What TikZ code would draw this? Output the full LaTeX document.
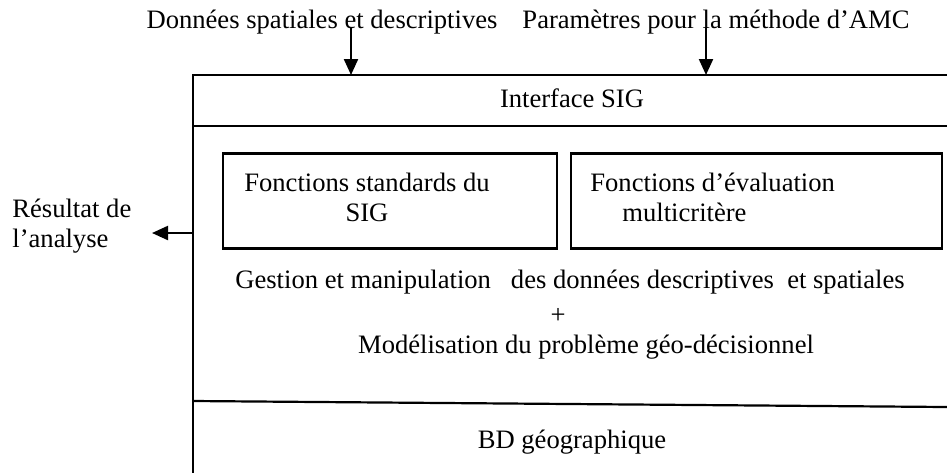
\documentclass[tikz,border=0pt]{standalone}
\usepackage{fontspec}
\setmainfont{Liberation Serif}
\usetikzlibrary{positioning,arrows.meta}

\begin{document}
\begin{tikzpicture}[x=0.5pt,y=-0.5pt,
    every node/.style={font=\fontsize{13.3}{15}\selectfont,inner sep=0pt},
    frame/.style={line width=1.1pt},
    fbox/.style={draw,line width=1.1pt,minimum width=167pt,minimum height=47.5pt},
    flow/.style={line width=1.1pt,-{Triangle[length=8pt,width=7pt]}},
  ]
  \useasboundingbox (0,0) rectangle (947,473);
  % entrees
  \node (donnees) at (322,22) {Données spatiales et descriptives};
  \node (params) at (716,22) {Paramètres pour la méthode d’AMC};
  \coordinate (d1) at (351,28);
  \coordinate (p1) at (706,28);
  % cadre
  \coordinate (tl) at (193,75);
  \coordinate (tr) at (947,75);
  \coordinate (ml) at (193,126);
  \coordinate (mr) at (947,126);
  \coordinate (bl) at (193,401);
  \coordinate (br) at (947,407);
  \coordinate (fl) at (193,473);
  \draw[frame] (tr) -- (tl) -- (fl);
  \draw[frame] (ml) -- (mr);
  \draw[frame] (bl) -- (br);
  \draw[flow] (d1) -- (d1 |- tl);
  \draw[flow] (p1) -- (p1 |- tl);
  \node (interface) at (572,98) {Interface SIG};
  % fonctions
  \node[fbox] (fstd) at (390,201) {};
  \node[fbox,minimum width=185.5pt] (famc) at (756.5,201) {};
  \node[align=center] at (367,197) {Fonctions standards du\\SIG};
  \node[align=left,anchor=west] at (590,197) {Fonctions d’évaluation\\\hspace*{16pt}multicritère};
  \node (gestion) at (570,282) {Gestion et manipulation\ \ \ des données descriptives\ \ et spatiales};
  \node (plus) at (558,316) {+};
  \node (model) at (586,347) {Modélisation du problème géo-décisionnel};
  \node (bd) at (572,442) {BD géographique};
  % sortie
  \coordinate (s1) at (193,233);
  \coordinate (s2) at (152,233);
  \draw[flow] (s1) -- (s2);
  \node[align=left,anchor=west] (resultat) at (12,226) {Résultat de\\l’analyse};
\end{tikzpicture}
\end{document}
